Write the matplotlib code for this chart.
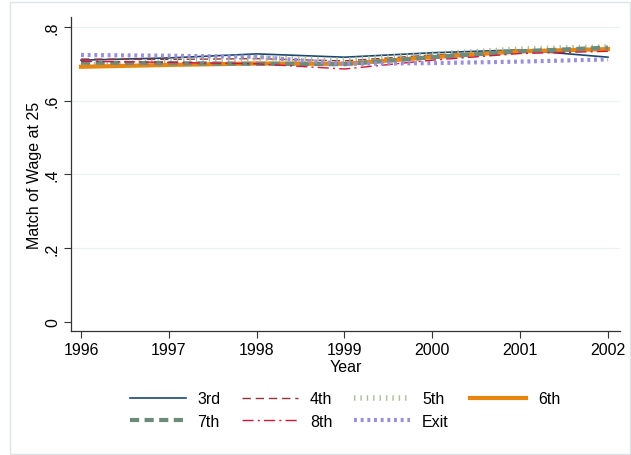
import matplotlib
matplotlib.use("Agg")
import matplotlib.pyplot as plt
from matplotlib.patches import Rectangle

plt.rcParams['font.family'] = ['Liberation Sans', 'DejaVu Sans']

years = [1996, 1997, 1998, 1999, 2000, 2001, 2002]
s3rd = [0.710, 0.716, 0.727, 0.718, 0.730, 0.738, 0.718]
s4th = [0.713, 0.712, 0.714, 0.708, 0.724, 0.734, 0.740]
s5th = [0.696, 0.706, 0.716, 0.710, 0.726, 0.740, 0.746]
s6th = [0.692, 0.697, 0.701, 0.700, 0.718, 0.734, 0.740]
s7th = [0.703, 0.702, 0.700, 0.699, 0.718, 0.734, 0.744]
s8th = [0.707, 0.704, 0.700, 0.686, 0.710, 0.728, 0.734]
sexit = [0.724, 0.722, 0.719, 0.700, 0.702, 0.706, 0.712]
labels = ["3rd", "4th", "5th", "6th", "7th", "8th", "Exit"]
xticks = [1996, 1997, 1998, 1999, 2000, 2001, 2002]
yticks = [0, 0.2, 0.4, 0.6, 0.8]
yticklabels = ["0", ".2", ".4", ".6", ".8"]

W, H = 631, 456
fig = plt.figure(figsize=(W / 100, H / 100), dpi=100)
fig.patches.append(Rectangle((10 / W, 1 - 455 / H), 620 / W, 452 / H,
                             transform=fig.transFigure, fill=False,
                             edgecolor="#dde5e8", linewidth=1.0))

ax = fig.add_axes([71 / W, 1 - 332 / H, 549 / W, 314 / H])

styles = [
    dict(color="#1a476f", lw=1.2, ls="-"),
    dict(color="#90353b", lw=1.0, ls=(0, (6, 3.5))),
    dict(color="#aebd96", lw=4.0, ls=(0, (0.25, 0.9)), solid_capstyle="butt", dash_capstyle="butt"),
    dict(color="#e8850f", lw=3.0, ls="-"),
    dict(color="#6e8b7a", lw=3.0, ls=(0, (2.2, 1.3))),
    dict(color="#d4163c", lw=1.0, ls=(0, (8, 3, 1.5, 3))),
    dict(color="#9b8fd6", lw=3.0, ls=(0, (0.7, 0.9)), dash_capstyle="butt"),
]
series = [s3rd, s4th, s5th, s6th, s7th, s8th, sexit]
handles = []
for vals, lab, st in zip(series, labels, styles):
    h, = ax.plot(years, vals, label=lab, **st)
    handles.append(h)

ax.set_xlim(1995.886, 2002.137)
ax.set_ylim(-0.0244, 0.827)
ax.set_xticks(xticks)
ax.set_xticklabels([str(x) for x in xticks], fontsize=11.5)
ax.set_yticks(yticks)
ax.set_yticklabels(yticklabels, fontsize=11.5, rotation=90, va="center")
ax.tick_params(axis="both", direction="out", length=5, width=0.8, color="#333333", pad=3)
for sp in ["top", "right"]:
    ax.spines[sp].set_visible(False)
for sp in ["left", "bottom"]:
    ax.spines[sp].set_color("#333333")
    ax.spines[sp].set_linewidth(0.9)
for y in yticks[1:]:
    ax.axhline(y, color="#eaf2f3", lw=0.9, zorder=0)

ax.set_xlabel("Year", fontsize=11.5, labelpad=1)
ax.set_ylabel("Match of Wage at 25", fontsize=11.5, labelpad=2)

order = [0, 4, 1, 5, 2, 6, 3]
leg = fig.legend([handles[i] for i in order], [labels[i] for i in order],
                 ncol=4, loc="center", bbox_to_anchor=(345 / W, 1 - 411 / H),
                 frameon=False, fontsize=11.5, handlelength=3.5, handletextpad=0.75,
                 columnspacing=1.35, labelspacing=0.45)

fig.savefig("out.png", dpi=100)
